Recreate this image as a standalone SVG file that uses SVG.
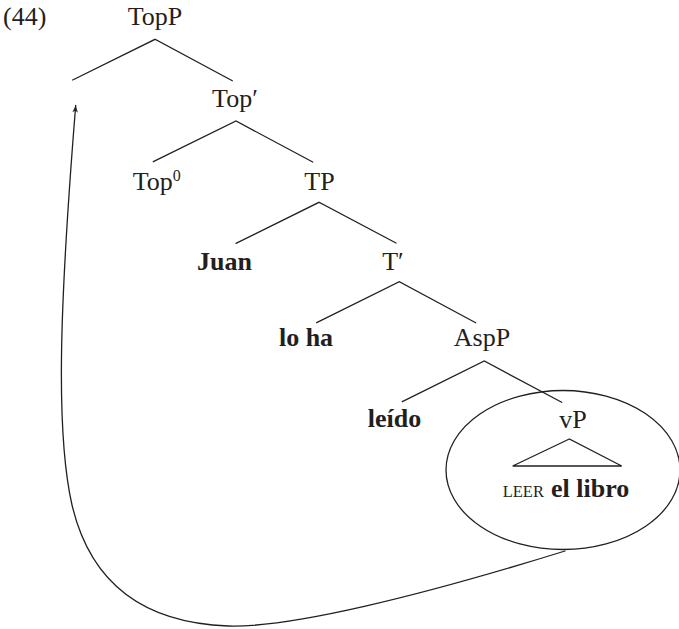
<svg xmlns="http://www.w3.org/2000/svg" width="679" height="629" viewBox="0 0 679 629">
  <defs>
    <style>
      text { font-family: "Liberation Serif", "Times New Roman", serif; font-size: 26px; fill: #231f20; }
      .m { text-anchor: middle; }
      .b { font-weight: bold; }
      .sc { font-size: 16.5px; }
      .edge { stroke: #231f20; stroke-width: 1.3; fill: none; stroke-linecap: round; }
    </style>
    <marker id="arrow" viewBox="-8 -4 10 8" refX="0" refY="0" markerWidth="10" markerHeight="8" markerUnits="userSpaceOnUse" orient="auto">
      <path d="M0,0 L-7,-2.8 L-5,0 L-7,2.8 Z" fill="#231f20"/>
    </marker>
  </defs>
  <rect width="679" height="629" fill="#ffffff"/>

  <!-- example number -->
  <text id="label-44" x="3" y="25">(44)</text>

  <!-- tree nodes -->
  <g id="node-TopP"><text class="m" x="155" y="25">TopP</text></g>
  <g id="node-TopBar"><text class="m" x="235" y="107">Top′</text></g>
  <g id="node-Top0"><text x="132.7" y="190">Top<tspan font-size="16" dy="-9">0</tspan></text></g>
  <g id="node-TP"><text class="m" x="319.5" y="190">TP</text></g>
  <g id="node-Juan"><text class="m b" x="224.5" y="270">Juan</text></g>
  <g id="node-TBar"><text class="m" x="393" y="270">T′</text></g>
  <g id="node-loha"><text class="m b" x="306" y="345.5">lo ha</text></g>
  <g id="node-AspP"><text class="m" x="482" y="345.5">AspP</text></g>
  <g id="node-leido"><text class="m b" x="394.5" y="427">leído</text></g>
  <g id="node-vP">
    <text class="m" x="573" y="428">vP</text>
    <polygon class="edge" points="569.3,439 512.7,466 621.7,466"/>
    <text x="502.7" y="496.7"><tspan class="sc">LEER</tspan><tspan class="b" font-size="26" x="551">el libro</tspan></text>
    <ellipse class="edge" cx="563" cy="470" rx="117" ry="79.5"/>
  </g>

  <!-- branches and movement arrow -->
  <g id="connectors">
    <path class="edge" d="M72.7,80 L155,39.3 L232.3,80.7"/>
    <path class="edge" d="M153.3,161.7 L236,121 L312.7,162"/>
    <path class="edge" d="M236,243.3 L319,202.3 L396,243"/>
    <path class="edge" d="M316.7,322.7 L399.3,281.7 L475.7,322.7"/>
    <path class="edge" d="M402.3,401.7 L484.3,361 L561.7,402.3"/>
    <path class="edge" marker-end="url(#arrow)" d="M565,551 C420,596 290,628 228,626 C120,622 85,560 72,505 C55,430 60,300 75.7,105.5"/>
  </g>
</svg>
